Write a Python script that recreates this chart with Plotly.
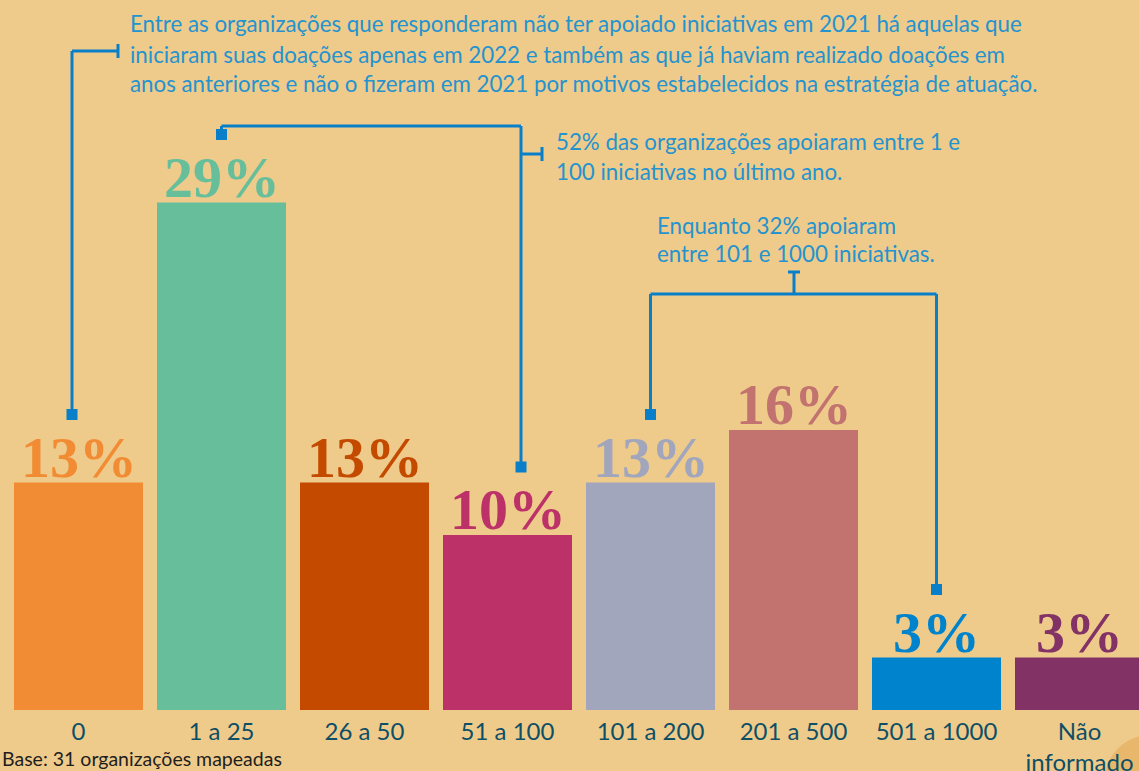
import plotly.graph_objects as go

# ---------------- data ----------------
categories = ["0", "1 a 25", "26 a 50", "51 a 100", "101 a 200", "201 a 500", "501 a 1000", "Não<br>informado"]
values = [13, 29, 13, 10, 13, 16, 3, 3]
labels = ["13%", "29%", "13%", "10%", "13%", "16%", "3%", "3%"]
colors = ["#F28C34", "#67BE9B", "#C44A00", "#BC3268", "#A1A6BC", "#C2736F", "#0083CD", "#833265"]

note_top = ["Entre as organizações que responderam não ter apoiado iniciativas em 2021 há aquelas que",
            "iniciaram suas doações apenas em 2022 e também as que já haviam realizado doações em",
            "anos anteriores e não o fizeram em 2021 por motivos estabelecidos na estratégia de atuação."]
note_mid = ["52% das organizações apoiaram entre 1 e", "100 iniciativas no último ano."]
note_right = ["Enquanto 32% apoiaram", "entre 101 e 1000 iniciativas."]
footnote = "Base: 31 organizações mapeadas"

# ---------------- layout geometry ----------------
W, H = 1139, 771
ML, MB = 7, 61
PLOT_W = W - ML
PLOT_H = H - MB
PITCH = 143.0
SCALE = 17.5                      # px per percentage point
YMAX = PLOT_H / SCALE
XMAX = -0.5 + PLOT_W / PITCH

BG = "#EECB8B"
LINE = "#0A7FC9"
TXT = "#2493CF"


def X(px):
    return (px - ML) / PITCH - 0.5


def Y(py):
    return (PLOT_H - py) / SCALE


def PX(px):
    return (px - ML) / PLOT_W


def PY(py):
    return (PLOT_H - py) / PLOT_H


xs = list(range(len(categories)))
SQ_OFF = 68 / SCALE

fig = go.Figure()
fig.add_trace(go.Bar(
    x=xs, y=values, marker=dict(color=colors, line=dict(width=0)),
    width=129 / PITCH,
    hoverinfo="skip",
))

shapes = []


def seg(x0, y0, x1, y1):
    shapes.append(dict(type="line", xref="x", yref="y", x0=x0, y0=y0, x1=x1, y1=y1,
                       line=dict(color=LINE, width=3)))


tick_h = 7 / SCALE   # half length of T-end in data units (vertical)
tick_w = 6 / PITCH   # half length of T-end (horizontal)

# bracket 1 (bar "0")
b1x = X(72)
b1top = Y(51)
seg(b1x, values[0] + SQ_OFF, b1x, b1top)
seg(b1x, b1top, X(118), b1top)
seg(X(118), b1top - tick_h, X(118), b1top + tick_h)

# bracket 2 (bars "1 a 25" .. "51 a 100")
b2a, b2b = 1, X(521)
b2top = Y(126)
seg(b2a, values[1] + SQ_OFF, b2a, b2top)
seg(b2a, b2top, b2b, b2top)
seg(b2b, b2top, b2b, values[3] + SQ_OFF)
seg(b2b, Y(154), X(542), Y(154))
seg(X(542), Y(154) - tick_h, X(542), Y(154) + tick_h)

# bracket 3 (bars "101 a 200" .. "501 a 1000")
b3a, b3b = 4, 6
b3top = Y(294)
b3mid = X(794)
seg(b3a, values[4] + SQ_OFF, b3a, b3top)
seg(b3a, b3top, b3b, b3top)
seg(b3b, b3top, b3b, values[6] + SQ_OFF)
seg(b3mid, b3top, b3mid, Y(272))
seg(b3mid - tick_w, Y(272), b3mid + tick_w, Y(272))

# decorative circle bottom right
shapes.append(dict(type="circle", xref="paper", yref="paper", layer="below",
                   x0=PX(1105), x1=PX(1195), y0=PY(825), y1=PY(735),
                   fillcolor="#E8B76C", line=dict(width=0)))

# square ends
sq_x = [b1x, b2a, b2b, b3a, b3b]
sq_y = [values[0] + SQ_OFF, values[1] + SQ_OFF, values[3] + SQ_OFF, values[4] + SQ_OFF, values[6] + SQ_OFF]
fig.add_trace(go.Scatter(x=sq_x, y=sq_y, mode="markers", cliponaxis=False,
                         marker=dict(symbol="square", size=11, color=LINE, line=dict(width=0)),
                         hoverinfo="skip"))

annotations = []

# value labels above the bars
for xi, v, lab, c in zip(xs, values, labels, colors):
    annotations.append(dict(text=lab, xref="x", yref="y", x=xi, y=v, xanchor="center", yanchor="bottom",
                            yshift=-9, showarrow=False,
                            font=dict(family="Liberation Serif", size=58, color=c, weight="bold")))


def txt(lines, px, py0, step, size=22.3, color=TXT, family="Lato"):
    for i, t in enumerate(lines):
        annotations.append(dict(text=t, xref="paper", yref="paper", x=PX(px), y=PY(py0 + i * step),
                                xanchor="left", yanchor="middle", showarrow=False,
                                font=dict(family=family, size=size, color=color)))


txt(note_top, 128, 24, 30)
txt(note_mid, 554, 142, 29)
txt(note_right, 655, 225, 29)
annotations.append(dict(text=footnote, xref="paper", yref="paper", x=PX(0), y=PY(759),
                        xanchor="left", yanchor="middle", showarrow=False,
                        font=dict(family="Lato", size=19.5, color="#1E1E1E")))

fig.update_layout(
    width=W, height=H,
    margin=dict(l=ML, r=0, t=0, b=MB, pad=0, autoexpand=False),
    paper_bgcolor=BG, plot_bgcolor=BG,
    showlegend=False,
    shapes=shapes, annotations=annotations,
    xaxis=dict(range=[-0.5, XMAX], tickmode="array", tickvals=xs, ticktext=categories,
               showgrid=False, zeroline=False, showline=False, ticks="",
               automargin=False, ticklabelstandoff=5,
               tickfont=dict(family="Lato", size=24, color="#0E4F66")),
    yaxis=dict(range=[0, YMAX], visible=False, showgrid=False, zeroline=False, automargin=False),
)

fig.write_html("out.html", config={"displayModeBar": False},
               post_script="document.body.style.margin='0';document.body.style.padding='0';"
                           "document.body.style.background='" + BG + "';")
